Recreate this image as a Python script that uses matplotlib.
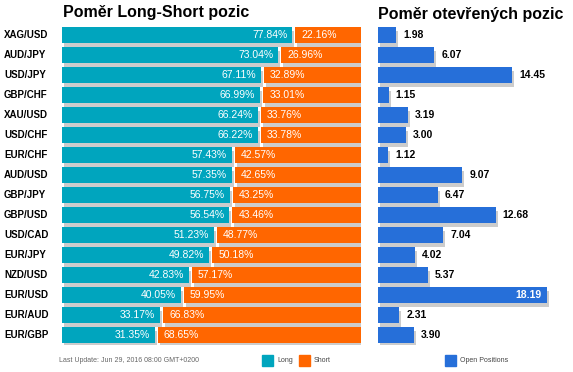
import matplotlib
matplotlib.use("Agg")
import matplotlib.pyplot as plt
from matplotlib.patches import Rectangle
from matplotlib.transforms import blended_transform_factory

plt.rcParams['font.family'] = ['Liberation Sans', 'DejaVu Sans']

# data
pairs = ['XAG/USD', 'AUD/JPY', 'USD/JPY', 'GBP/CHF', 'XAU/USD', 'USD/CHF', 'EUR/CHF', 'AUD/USD',
         'GBP/JPY', 'GBP/USD', 'USD/CAD', 'EUR/JPY', 'NZD/USD', 'EUR/USD', 'EUR/AUD', 'EUR/GBP']
long_pct = [77.84, 73.04, 67.11, 66.99, 66.24, 66.22, 57.43, 57.35,
            56.75, 56.54, 51.23, 49.82, 42.83, 40.05, 33.17, 31.35]
short_pct = [22.16, 26.96, 32.89, 33.01, 33.76, 33.78, 42.57, 42.65,
             43.25, 43.46, 48.77, 50.18, 57.17, 59.95, 66.83, 68.65]
open_pos = [1.98, 6.07, 14.45, 1.15, 3.19, 3.00, 1.12, 9.07,
            6.47, 12.68, 7.04, 4.02, 5.37, 18.19, 2.31, 3.90]

TEAL = '#00A5BE'
ORANGE = '#FF6600'
BLUE = '#266FD9'
SHADOW = '#CCCCCC'

W, H = 573, 372
fig = plt.figure(figsize=(W / 100, H / 100), dpi=100)


def px_axes(x0, x1, ytop, ybot):
    return fig.add_axes([x0 / W, (H - ybot) / H, (x1 - x0) / W, (ybot - ytop) / H])


n = len(pairs)
rows = list(range(n))
bh = 0.8
gap = 1.0

# left chart: long/short ratio
ax1 = px_axes(62, 361, 25, 345)
ax1.set_xlim(0, 100 + gap)
ax1.set_ylim(n - 0.5, -0.5)
sx1 = 2 * 101 / 299
sy = 0.2
lab_tr = blended_transform_factory(fig.transFigure, ax1.transData)
for i in rows:
    L, S = long_pct[i], short_pct[i]
    ax1.barh(i + sy, L, left=sx1, height=bh, color=SHADOW, zorder=1)
    ax1.barh(i + sy, S, left=L + gap + sx1, height=bh, color=SHADOW, zorder=1)
    ax1.barh(i, L, height=bh, color=TEAL, zorder=2)
    ax1.barh(i, S, left=L + gap, height=bh, color=ORANGE, zorder=2)
    ax1.annotate(f'{L:.2f}%', (L, i), xytext=(-5, 0), textcoords='offset pixels',
                 ha='right', va='center', color='white', fontsize=7.5, zorder=3)
    ax1.annotate(f'{S:.2f}%', (L + gap, i), xytext=(6, 0), textcoords='offset pixels',
                 ha='left', va='center', color='white', fontsize=7.5, zorder=3)
    ax1.text(4 / W, i, pairs[i], transform=lab_tr, ha='left', va='center',
             fontsize=7, fontweight='bold', color='black', clip_on=False)
ax1.axis('off')

# right chart: open positions
ax2 = px_axes(378, 573, 25, 345)
ax2.set_xlim(0, 195 / 9.29)
ax2.set_ylim(n - 0.5, -0.5)
sx2 = 2 / 9.29
for i in rows:
    v = open_pos[i]
    ax2.barh(i + sy, v, left=sx2, height=bh, color=SHADOW, zorder=1)
    ax2.barh(i, v, height=bh, color=BLUE, zorder=2)
    if v > 16:
        ax2.annotate(f'{v:.2f}', (v, i), xytext=(-5, 0), textcoords='offset pixels',
                     ha='right', va='center', color='white', fontsize=7.5, fontweight='bold', zorder=3)
    else:
        ax2.annotate(f'{v:.2f}', (v, i), xytext=(7, 0), textcoords='offset pixels',
                     ha='left', va='center', color='black', fontsize=7.5, fontweight='bold', zorder=3)
ax2.axis('off')

# titles
fig.text(63 / W, 1 - 13 / H, 'Poměr Long-Short pozic', ha='left', va='center',
         fontsize=11.5, fontweight='bold')
fig.text(378 / W, 1 - 14 / H, 'Poměr otevřených pozic', ha='left', va='center',
         fontsize=11.5, fontweight='bold')

# footer
fig.text(59 / W, 1 - 360 / H, 'Last Update: Jun 29, 2016 08:00 GMT+0200', ha='left', va='center',
         fontsize=5, color='#666666')
legend_items = [(262, TEAL, 'Long'), (299, ORANGE, 'Short'), (445, BLUE, 'Open Positions')]
for x, c, lab in legend_items:
    fig.patches.append(Rectangle((x / W, 1 - 366 / H), 11 / W, 11 / H, color=c,
                                 transform=fig.transFigure, figure=fig))
    fig.text((x + 15) / W, 1 - 361 / H, lab, ha='left', va='center', fontsize=5, color='#444444')

fig.savefig('out.png', dpi=100)
